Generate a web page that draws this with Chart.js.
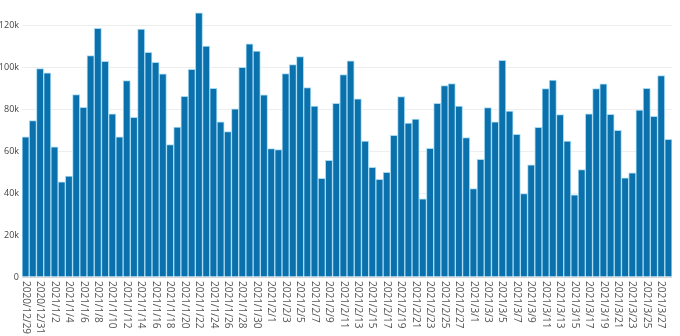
<!DOCTYPE html>
<html>
<head>
<meta charset="utf-8">
<script src="https://cdn.jsdelivr.net/npm/chart.js@4/dist/chart.umd.min.js"></script>
<style>
  html, body { margin: 0; padding: 0; background: #fff; }
  #wrap { width: 680px; height: 336px; }
</style>
</head>
<body>
<div id="wrap"><canvas id="chart"></canvas></div>
<script>
// daily counts, 2020/12/29 .. 2021/3/28
const startDate = [2020, 12, 29];
const values = [
  66800, 74500, 99300, 97300, 62000, 45300, 48100, 86900, 80900, 105500,
  118500, 102800, 77700, 66800, 93600, 76100, 118100, 107100, 102300, 96800,
  63100, 71500, 86100, 99000, 125900, 110100, 89900, 74000, 69300, 80100,
  99900, 111100, 107700, 86800, 61200, 60700, 96900, 101200, 105000, 90300,
  81400, 47000, 55600, 82800, 96500, 103000, 84900, 64800, 52300, 46600,
  49900, 67500, 86000, 73300, 75200, 37300, 61300, 82800, 91200, 92200,
  81500, 66400, 42100, 56100, 80700, 73900, 103300, 79100, 68000, 39700,
  53400, 71300, 89800, 93800, 77400, 64800, 39100, 51200, 77700, 89800,
  92000, 77500, 69900, 47200, 49600, 79500, 89900, 76600, 96000, 65600
];
const yTicks = [0, 20000, 40000, 60000, 80000, 100000, 120000];

function buildLabels(n) {
  const out = [];
  const d = new Date(startDate[0], startDate[1] - 1, startDate[2]);
  for (let i = 0; i < n; i++) {
    out.push(d.getFullYear() + "/" + (d.getMonth() + 1) + "/" + d.getDate());
    d.setDate(d.getDate() + 1);
  }
  return out;
}
const labels = buildLabels(values.length);

const FONT = "'Open Sans', sans-serif";

// x labels read top-to-bottom, every second day
const verticalLabels = {
  id: "verticalLabels",
  afterDraw(chart) {
    const ctx = chart.ctx;
    const x = chart.scales.x;
    const top = chart.chartArea.bottom + 4;
    ctx.save();
    ctx.fillStyle = "#555";
    ctx.font = "10px " + FONT;
    ctx.textAlign = "left";
    ctx.textBaseline = "middle";
    labels.forEach((lab, i) => {
      if (i % 2) return;
      const px = x.getPixelForValue(i);
      ctx.save();
      ctx.translate(px, top);
      ctx.rotate(Math.PI / 2);
      ctx.fillText(lab, 0, 0);
      ctx.restore();
    });
    ctx.restore();
  }
};

new Chart(document.getElementById("chart"), {
  type: "bar",
  data: {
    labels,
    datasets: [{
      data: values,
      backgroundColor: "#0b71ad",
      borderColor: "#a6daf3",
      borderWidth: 1,
      borderSkipped: "bottom",
      barPercentage: 1,
      categoryPercentage: 1
    }]
  },
  options: {
    responsive: true,
    maintainAspectRatio: false,
    animation: false,
    layout: { padding: { left: 0, right: 8, top: 0, bottom: 0 } },
    plugins: { legend: { display: false }, tooltip: { enabled: false } },
    scales: {
      x: {
        grid: { display: false },
        border: { display: false },
        ticks: { display: false },
        afterFit(scale) { scale.height = 59; }
      },
      y: {
        min: 0,
        max: 132000,
        afterBuildTicks(scale) {
          scale.ticks = yTicks.map((v) => ({ value: v }));
        },
        grid: {
          color: (c) => (c.tick && c.tick.value === 0 ? "#d8d8d8" : "#eeeeee"),
          lineWidth: 1,
          drawTicks: false
        },
        border: { display: false },
        ticks: {
          color: "#444",
          font: { family: FONT, size: 9 },
          padding: 3,
          callback: (v) => (v === 0 ? "0" : v / 1000 + "k")
        },
        afterFit(scale) {
          scale.width = 22;
          scale.paddingTop = 0;
          scale.paddingBottom = 0;
        }
      }
    }
  },
  plugins: [verticalLabels]
});
</script>
</body>
</html>
